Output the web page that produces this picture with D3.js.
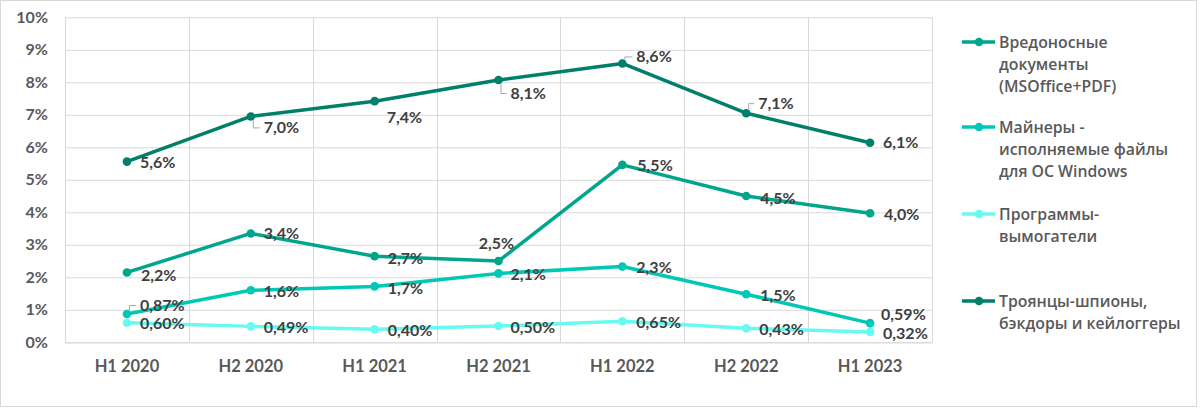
<!DOCTYPE html>
<html><head><meta charset="utf-8">
<script src="https://cdn.jsdelivr.net/npm/d3@7"></script>
<style>
html,body{margin:0;padding:0;background:#fff;}
svg{display:block;}
</style></head>
<body>
<svg id="chart" width="1200" height="408"></svg>
<script>
// ---- data ----
const categories = ["H1 2020","H2 2020","H1 2021","H2 2021","H1 2022","H2 2022","H1 2023"];
const yTicks = [0,1,2,3,4,5,6,7,8,9,10];
const trojans   = [5.56, 6.95, 7.42, 8.07, 8.58, 7.05, 6.14];
const documents = [2.15, 3.35, 2.65, 2.50, 5.46, 4.50, 3.97];
const miners    = [0.87, 1.60, 1.72, 2.12, 2.33, 1.48, 0.59];
const ransomware= [0.60, 0.49, 0.40, 0.50, 0.65, 0.43, 0.32];
const trojansLabels    = ["5,6%","7,0%","7,4%","8,1%","8,6%","7,1%","6,1%"];
const documentsLabels  = ["2,2%","3,4%","2,7%","2,5%","5,5%","4,5%","4,0%"];
const minersLabels     = ["0,87%","1,6%","1,7%","2,1%","2,3%","1,5%","0,59%"];
const ransomwareLabels = ["0,60%","0,49%","0,40%","0,50%","0,65%","0,43%","0,32%"];
const legendNames = [
  ["Вредоносные","документы","(MSOffice+PDF)"],
  ["Майнеры -","исполняемые файлы","для ОС Windows"],
  ["Программы-","вымогатели"],
  ["Троянцы-шпионы,","бэкдоры  и кейлоггеры"]
];

// ---- label layout (offsets from the point: dx, dy, anchor, leader) ----
const trojansLayout    = [[13,1,"start",""],[13,11,"start","down"],[12,16,"start",""],[12,13,"start","down"],[14,-7,"start","up"],[12,-10,"start","up"],[13,0,"start",""]];
const documentsLayout  = [[14,3,"start",""],[13,0,"start",""],[13,2,"start",""],[-2,-18,"middle",""],[15,1,"start",""],[14,2,"start",""],[14,1,"start",""]];
const minersLayout     = [[13,-9,"start","up"],[13,1,"start",""],[13,2,"start",""],[12,1,"start",""],[14,1,"start",""],[14,1,"start",""],[11,-9,"start",""]];
const ransomwareLayout = [[13,1,"start",""],[13,1,"start",""],[13,1,"start",""],[12,1,"start",""],[14,1,"start",""],[13,1,"start",""],[13,1,"start",""]];

const series = [
  {name:legendNames[0], values:documents, labels:documentsLabels, layout:documentsLayout, color:"#00A68C", legendY:42},
  {name:legendNames[1], values:miners, labels:minersLabels, layout:minersLayout, color:"#00C8B6", legendY:127},
  {name:legendNames[2], values:ransomware, labels:ransomwareLabels, layout:ransomwareLayout, color:"#66FAF2", legendY:214},
  {name:legendNames[3], values:trojans, labels:trojansLabels, layout:trojansLayout, color:"#007F6B", legendY:301}
];

const svg = d3.select("#chart");
const plotLeft = 65, plotRight = 932, plotTop = 17.3, plotBottom = 342.3;

// outer border
svg.append("rect").attr("x",0.5).attr("y",0.5).attr("width",1196).attr("height",406)
  .attr("fill","#fff").attr("stroke","#d9d9d9").attr("stroke-width",1);

const x = d3.scaleBand().domain(categories).range([plotLeft,plotRight]).padding(0);
const y = d3.scaleLinear().domain([0,10]).range([plotBottom,plotTop]);

const TEXT_FONT = "Lato, 'Open Sans', sans-serif";

// horizontal gridlines via axis
const gy = svg.append("g").attr("transform",`translate(${plotLeft},0)`)
  .call(d3.axisLeft(y).tickValues(yTicks).tickSize(-(plotRight-plotLeft)).tickFormat(d=>d+"%").tickPadding(17));
gy.select(".domain").remove();
gy.selectAll(".tick line").attr("stroke","#d9d9d9").attr("stroke-width",1);
gy.selectAll(".tick text").attr("fill","#595959").style("font-family",TEXT_FONT)
  .style("font-size","16px").style("font-weight","700");

// vertical gridlines at band edges
const edges = categories.map(c=>x(c)).concat([x(categories[categories.length-1])+x.bandwidth()]);
svg.append("g").selectAll("line").data(edges).join("line")
  .attr("x1",d=>Math.round(d)+0.5).attr("x2",d=>Math.round(d)+0.5)
  .attr("y1",plotTop).attr("y2",plotBottom)
  .attr("stroke","#d9d9d9").attr("stroke-width",1);

// x axis
const gx = svg.append("g").attr("transform",`translate(0,${plotBottom})`)
  .call(d3.axisBottom(x).tickSize(0).tickPadding(18));
gx.select(".domain").attr("stroke","#d9d9d9");
gx.selectAll(".tick text").attr("fill","#595959").style("font-family",TEXT_FONT)
  .style("font-size","16.5px").style("font-weight","700");

const cx = c => x(c) + x.bandwidth()/2;
const line = d3.line().x((d,i)=>cx(categories[i])).y(d=>y(d));

const drawOrder = [2,1,0,3];
drawOrder.forEach(si=>{
  const s = series[si];
  const g = svg.append("g");
  g.append("path").datum(s.values).attr("d",line).attr("fill","none")
    .attr("stroke",s.color).attr("stroke-width",3.5).attr("stroke-linejoin","round").attr("stroke-linecap","round");
  g.selectAll("circle").data(s.values).join("circle")
    .attr("cx",(d,i)=>cx(categories[i])).attr("cy",d=>y(d)).attr("r",4.3).attr("fill",s.color);
});

// labels
series.forEach(s=>{
  const g = svg.append("g");
  s.values.forEach((v,i)=>{
    const px = cx(categories[i]), py = y(v);
    const [dx,dy,anchor,leader] = s.layout[i];
    const tx = px+dx, ty = py+dy;
    if(leader){
      const sy = leader==="down" ? py+4 : py-4;
      g.append("path").attr("d",`M${px+2.5},${sy}V${ty+0.5}H${tx-4}`)
        .attr("fill","none").attr("stroke","#a6a6a6").attr("stroke-width",1);
    }
    g.append("text").attr("x",tx).attr("y",ty).attr("dy","0.35em")
      .attr("text-anchor",anchor).attr("fill","#404040")
      .style("font-family",TEXT_FONT).style("font-size","16px").style("font-weight","700")
      .text(s.labels[i]);
  });
});

// legend
const lg = svg.append("g");
series.forEach(s=>{
  lg.append("line").attr("x1",962).attr("x2",995).attr("y1",s.legendY).attr("y2",s.legendY)
    .attr("stroke",s.color).attr("stroke-width",3.5);
  lg.append("circle").attr("cx",979).attr("cy",s.legendY).attr("r",4.3).attr("fill",s.color);
  s.name.forEach((t,k)=>{
    lg.append("text").attr("x",999).attr("y",s.legendY+k*22.2).attr("dy","0.35em")
      .attr("fill","#595959").style("font-family","'Open Sans', 'Noto Sans', sans-serif")
      .style("font-size","15.8px").style("font-weight","600").text(t);
  });
});
</script>
</body></html>
